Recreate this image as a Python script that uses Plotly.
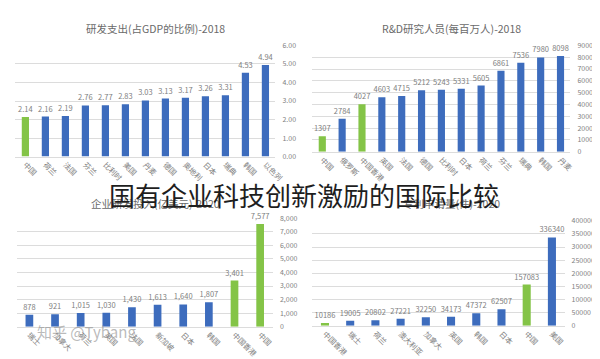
import plotly.graph_objects as go

W, H = 600, 359

# ---- data ----
p1_title = "研发支出(占GDP的比例)-2018"
p1_cats = ["中国", "荷兰", "法国", "芬兰", "比利时", "美国", "丹麦", "德国", "奥地利", "日本", "瑞典", "韩国", "以色列"]
p1_vals = [2.14, 2.16, 2.19, 2.76, 2.77, 2.83, 3.03, 3.13, 3.17, 3.26, 3.31, 4.53, 4.94]
p1_green = ["中国"]

p2_title = "R&D研究人员(每百万人)-2018"
p2_cats = ["中国", "俄罗斯", "中国香港", "英国", "法国", "德国", "比利时", "日本", "荷兰", "芬兰", "瑞典", "韩国", "丹麦"]
p2_vals = [1307, 2784, 4027, 4603, 4715, 5212, 5243, 5331, 5605, 6861, 7536, 7980, 8098]
p2_green = ["中国", "中国香港"]

p3_title = "企业研发投入(亿美元)-2020"
p3_cats = ["瑞士", "加拿大", "荷兰", "英国", "法国", "新加坡", "日本", "韩国", "中国香港", "中国"]
p3_vals = [878, 921, 1015, 1030, 1430, 1613, 1640, 1807, 3401, 7577]
p3_green = ["中国香港", "中国"]

p4_title = "专利申请量(件)-2020"
p4_cats = ["中国香港", "瑞士", "荷兰", "澳大利亚", "加拿大", "英国", "韩国", "日本", "中国", "美国"]
p4_vals = [10186, 19005, 20802, 27221, 32250, 34173, 47372, 62507, 157083, 336340]
p4_green = ["中国香港", "中国"]

main_title = "国有企业科技创新激励的国际比较"
watermark = "知乎 @Tybang"

BLUE = "#3d6cbd"
GREEN = "#84c447"
GRID = "#dcdcdc"
TXT = "#808080"
FONT = "Noto Sans CJK SC"

fig = go.Figure()

def px_x(a, b):
    return [a / W, b / W]

def px_y(top, bottom):
    return [1 - bottom / H, 1 - top / H]

panels = [
    (p1_title, p1_cats, p1_vals, p1_green, (7.5, 271.5), (32.3, 146.7), [0, 6], 1, ".2f", 0.36, "{:.2f}", (150, 15)),
    (p2_title, p2_cats, p2_vals, p2_green, (309, 571), (32.3, 141.7), [0, 9000], 1000, "d", 0.36, "{:d}", (450, 15)),
    (p3_title, p3_cats, p3_vals, p3_green, (8.7, 269), (210, 321.7), [0, 8000], 1000, ",d", 0.3, "{:,d}", (150, 195)),
    (p4_title, p4_cats, p4_vals, p4_green, (309, 565), (212.7, 320.7), [0, 400000], 50000, "d", 0.32, "{:d}", (450, 195)),
]

annotations = []
for i, (title, cats, vals, green, xd, yd, yr, dt, tf, bw, txf, tpos) in enumerate(panels):
    n = i + 1
    xa = "x" if n == 1 else f"x{n}"
    ya = "y" if n == 1 else f"y{n}"
    colors = [GREEN if c in green else BLUE for c in cats]
    fig.add_trace(go.Bar(
        x=cats, y=vals, xaxis=xa, yaxis=ya,
        marker=dict(color=colors, line=dict(width=0)),
        width=bw,
        text=[txf.format(v) for v in vals],
        textposition="outside",
        constraintext="none",
        cliponaxis=False,
        textfont=dict(size=7.5, color=TXT, family=FONT),
        showlegend=False,
        hoverinfo="skip",
    ))
    xkey = "xaxis" if n == 1 else f"xaxis{n}"
    ykey = "yaxis" if n == 1 else f"yaxis{n}"
    fig.update_layout(**{
        xkey: dict(domain=px_x(*xd), anchor=ya, tickangle=45,
                   tickfont=dict(size=7.5, color=TXT, family=FONT),
                   showgrid=False, showline=True, linecolor=GRID, linewidth=1,
                   ticks="", range=[-0.5, len(cats) - 0.5], fixedrange=True),
        ykey: dict(domain=px_y(*yd), anchor=xa, side="right", range=yr, dtick=dt,
                   tick0=0, tickformat=tf, showgrid=True, gridcolor=GRID, gridwidth=1,
                   zeroline=False, showline=False, ticks="",
                   tickfont=dict(size=7, color=TXT, family=FONT),
                   ticklabelstandoff=6, fixedrange=True),
    })
    annotations.append(dict(
        text=title, x=tpos[0] / W, y=1 - tpos[1] / H, xref="paper", yref="paper",
        showarrow=False, xanchor="center", yanchor="middle",
        font=dict(size=10.5, color="#6a6a6a", family=FONT),
    ))

annotations.append(dict(
    text=main_title, x=0.5, y=1 - 186 / H, xref="paper", yref="paper",
    showarrow=False, xanchor="center", yanchor="middle",
    font=dict(size=26, color="#1e1e1e", family=FONT),
))
annotations.append(dict(
    text=watermark, x=80 / W, y=1 - 327 / H, xref="paper", yref="paper",
    showarrow=False, xanchor="center", yanchor="middle",
    font=dict(size=15, color="rgba(140,140,140,0.6)", family=FONT),
))

fig.update_layout(
    width=W, height=H,
    margin=dict(l=0, r=0, t=0, b=0),
    paper_bgcolor="white", plot_bgcolor="white",
    annotations=annotations,
    font=dict(family=FONT),
)

fig.write_html("out.html")
